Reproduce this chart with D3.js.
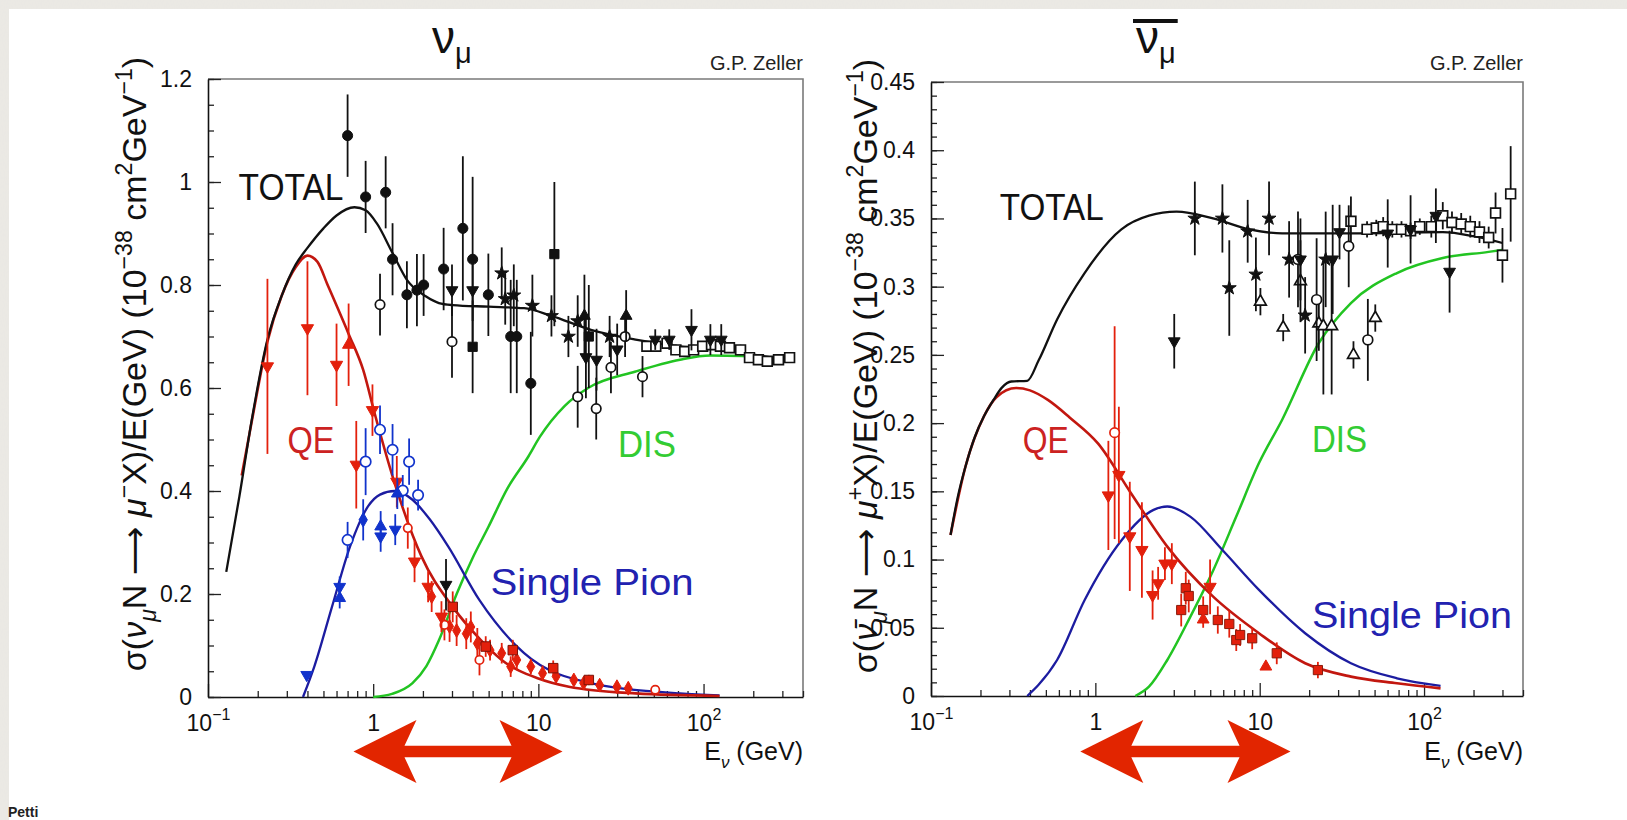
<!DOCTYPE html>
<html>
<head>
<meta charset="utf-8">
<script src="https://cdn.jsdelivr.net/npm/d3@7"></script>
<style>
  html, body { margin: 0; padding: 0; background: #ebe9e4; }
  svg { display: block; }
  text { font-family: "Liberation Sans", Arial, sans-serif; }
</style>
</head>
<body>
<svg id="chart" width="1627" height="820"></svg>
<script>
// ---------------- shared energy axis ----------------
const energyDomain = [0.1, 400];
const energyTicks = [0.1, 1, 10, 100];
const energyTickLabels = [["10", "−1"], ["1", ""], ["10", ""], ["10", "2"]];

// ---------------- ν_μ panel ----------------
const nuYTicks = [0, 0.2, 0.4, 0.6, 0.8, 1, 1.2];
const nuYTickLabels = ["0", "0.2", "0.4", "0.6", "0.8", "1", "1.2"];

// model curves: [E (GeV), σ/E (1e-38 cm² / GeV)]
const nuTotal = [[0.129,0.243],[0.155,0.39],[0.184,0.538],[0.229,0.694],[0.28,0.78],[0.34,0.84],[0.40,0.872],
  [0.5,0.91],[0.6,0.935],[0.77,0.951],[0.9,0.945],[1.05,0.92],[1.31,0.862],[1.6,0.81],[2.08,0.778],[2.5,0.765],
  [3.03,0.761],[5,0.758],[8.2,0.755],[12,0.74],[20.8,0.713],[38.8,0.694],[72,0.681],[135,0.674],[200,0.665],[300,0.656]];
const nuQE = [[0.16,0.43],[0.184,0.535],[0.229,0.69],[0.28,0.78],[0.34,0.835],[0.40,0.857],[0.46,0.845],[0.53,0.80],
  [0.71,0.705],[0.87,0.635],[1.02,0.551],[1.39,0.402],[1.96,0.273],[3.03,0.175],[4.5,0.11],[6,0.072],[10,0.036],
  [15.3,0.020],[38.8,0.007],[125,0.002]];
const nuPion = [[0.376,0],[0.44,0.059],[0.563,0.175],[0.724,0.292],[0.93,0.37],[1.1,0.393],[1.35,0.40],[1.73,0.383],
  [2.2,0.345],[2.85,0.292],[4.4,0.188],[8.2,0.085],[20.8,0.027],[72,0.007],[125,0.003]];
const nuDIS = [[1.0,0],[1.3,0.006],[1.73,0.027],[2.1,0.06],[2.5,0.11],[3.2,0.2],[4.0,0.27],[4.98,0.33],[6.5,0.405],
  [8.7,0.467],[10.2,0.505],[14.4,0.565],[20,0.60],[38.8,0.632],[72,0.655],[110,0.663],[171,0.662],[300,0.655]];

// measurements: [E, value, error]
const nuTotFilledCircle = [[0.70,1.09,0.08],[0.90,0.971,0.07],[1.19,0.98,0.07],[1.31,0.85,0.07],[1.60,0.781,0.065],
  [1.84,0.79,0.07],[2.02,0.80,0.06],[2.67,0.831,0.08],[3.49,0.91,0.14],[4.0,0.85,0.16],[4.98,0.781,0.08],
  [6.8,0.70,0.11],[7.4,0.70,0.11],[9.0,0.609,0.10]];
const nuTotFilledSquare = [[4.0,0.68,0.09],[12.5,0.86,0.14],[20.2,0.70,0.10]];
const nuTotOpenCircle = [[1.10,0.762,0.06],[3.0,0.69,0.07],[17.3,0.583,0.06],[22.4,0.56,0.06],[27.5,0.64,0.05],
  [33.5,0.70,0.04],[42.7,0.622,0.04]];
const nuTotStar = [[6.0,0.823,0.05],[6.3,0.773,0.05],[7.1,0.78,0.06],[9.2,0.76,0.06],[12,0.74,0.04],[15.2,0.70,0.04],
  [17.3,0.73,0.05],[27,0.70,0.04]];
const nuTotDownTri = [[3.0,0.79,0.05],[4.0,0.79,0.06],[19.4,0.66,0.08],[22.5,0.655,0.06],[30,0.675,0.05],
  [51,0.694,0.02],[62,0.694,0.02],[84.5,0.713,0.04],[110,0.694,0.03],[128,0.694,0.03],[2.76,0.218,0.05]];
const nuTotUpTri = [[19,0.74,0.08],[34,0.74,0.05]];
const nuTotOpenSquare = [[45.4,0.681,0.01],[51.4,0.681,0.01],[60.1,0.687,0.01],[68.0,0.674,0.01],[76.9,0.671,0.01],
  [87.1,0.674,0.01],[98.8,0.681,0.01],[111.7,0.684,0.01],[126.5,0.681,0.01],[143.5,0.678,0.01],[167.5,0.674,0.01],
  [189.7,0.659,0.01],[214.8,0.655,0.01],[243.2,0.652,0.01],[284.4,0.655,0.01],[331.9,0.659,0.01]];

const nuQeDownTri = [[0.229,0.642,0.17],[0.40,0.716,0.13],[0.60,0.645,0.08],[0.79,0.451,0.085],[0.99,0.557,0.05],
  [1.39,0.418,0.05],[1.78,0.263,0.04],[2.15,0.214,0.03],[2.59,0.156,0.03]];
const nuQeUpTri = [[0.71,0.684,0.08]];
const nuQeFilled = [[2.26,0.195,0.03],[2.9,0.137,0.03],[3.2,0.129,0.03],[3.66,0.123,0.03],[3.9,0.136,0.03],
  [4.27,0.104,0.03],[5.1,0.091,0.02],[6.0,0.085,0.02],[6.8,0.059,0.02],[7.4,0.072,0.02],[9.0,0.059,0.015],
  [10.6,0.046,0.015],[12.8,0.04,0.01],[16.4,0.033,0.01],[18.8,0.027,0.01],[23.5,0.023,0.01],[29.9,0.02,0.01],
  [35,0.017,0.008]];
const nuQeSquare = [[3.03,0.175,0.03],[4.8,0.098,0.02],[7.0,0.091,0.02],[12.3,0.056,0.015],[20.2,0.033,0.01]];
const nuQeOpenCircle = [[1.62,0.328,0.04],[2.7,0.14,0.03],[4.4,0.072,0.03],[51,0.014,0.005]];

const nuPiDownTri = [[0.396,0.043,0],[0.627,0.214,0.02],[1.11,0.312,0.03],[1.36,0.325,0.03]];
const nuPiUpTri = [[0.627,0.192,0.02],[1.11,0.331,0.03],[1.40,0.395,0.03]];
const nuPiOpenCircle = [[0.70,0.305,0.035],[0.90,0.457,0.065],[1.10,0.519,0.047],[1.31,0.48,0.05],[1.51,0.401,0.03],
  [1.65,0.457,0.045],[1.87,0.392,0.03]];
const nuPiFilled = [[0.87,0.344,0.04]];

// ---------------- anti-ν_μ panel ----------------
const nbYTicks = [0, 0.05, 0.1, 0.15, 0.2, 0.25, 0.3, 0.35, 0.4, 0.45];
const nbYTickLabels = ["0", "0.05", "0.1", "0.15", "0.2", "0.25", "0.3", "0.35", "0.4", "0.45"];

const nbTotal = [[0.1315,0.118],[0.145,0.145],[0.162,0.168],[0.185,0.19],[0.21,0.205],[0.24,0.217],[0.27,0.226],
  [0.308,0.2305],[0.385,0.231],[0.452,0.246],[0.585,0.276],[0.86,0.31],[1.44,0.342],[2.12,0.352],[3.12,0.355],
  [5.2,0.350],[8.7,0.342],[13.7,0.339],[36,0.339],[130,0.340],[200,0.337],[300,0.332]];
const nbQE = [[0.1315,0.118],[0.162,0.168],[0.21,0.205],[0.25,0.219],[0.33,0.2257],[0.4,0.224],[0.514,0.217],
  [0.7,0.204],[1.04,0.185],[1.64,0.149],[2.74,0.1095],[5.21,0.0728],[9.9,0.046],[18.9,0.024],[35.9,0.0142],
  [68.4,0.0093],[126,0.0056]];
const nbPion = [[0.385,0],[0.45,0.008],[0.585,0.0264],[0.861,0.0704],[1.44,0.114],[2.26,0.1364],[2.74,0.1389],
  [3.78,0.1315],[5.93,0.107],[9.9,0.0778],[18.9,0.046],[35.9,0.024],[68.4,0.013],[126,0.0075]];
const nbDIS = [[1.75,0],[2.12,0.0068],[2.74,0.0264],[3.78,0.058],[5.21,0.092],[7.2,0.1315],[9.9,0.1707],
  [13.7,0.2025],[22.9,0.2587],[35.9,0.288],[68.4,0.31],[130,0.321],[247,0.3255],[300,0.327]];

const nbTotStar = [[4.03,0.350,0.027],[5.93,0.350,0.025],[6.53,0.299,0.035],[8.45,0.3406,0.023],[9.48,0.309,0.027],
  [11.4,0.35,0.027],[15.1,0.32,0.028],[18.9,0.279,0.028],[25.2,0.32,0.035]];
const nbTotOpenTri = [[10.1,0.289,0.01],[13.9,0.27,0.01],[17.7,0.304,0.03],[22.9,0.273,0.02],[24.4,0.271,0.05],
  [27.4,0.271,0.05],[37.2,0.25,0.01],[50.5,0.277,0.01]];
const nbTotOpenCircle = [[17.1,0.32,0.035],[22.2,0.2905,0.045],[34.8,0.3296,0.03],[45.5,0.261,0.03]];
const nbTotDownTri = [[3.02,0.26,0.02],[17.7,0.32,0.03],[27.8,0.32,0.04],[30.6,0.34,0.02],[60.1,0.339,0.025],
  [82.8,0.342,0.025],[118,0.352,0.02],[143,0.311,0.03]];
const nbTotOpenSquare = [[35.9,0.348,0.018],[45.0,0.342,0.006],[51.2,0.343,0.006],[56.4,0.344,0.007],[64.1,0.342,0.006],
  [72.9,0.342,0.006],[82.8,0.341,0.006],[94.2,0.344,0.006],[110.7,0.344,0.008],[130,0.352,0.01],[147.9,0.347,0.008],
  [168.3,0.346,0.008],[191.1,0.344,0.008],[217.4,0.340,0.008],[247.3,0.336,0.008],[272.3,0.354,0.015],
  [300,0.323,0.02],[336.5,0.368,0.035]];

const nbQeDownTri = [[1.20,0.147,0.04],[1.39,0.162,0.05],[1.62,0.117,0.04],[1.92,0.107,0.035],[2.23,0.074,0.018],
  [2.41,0.0826,0.012],[2.65,0.097,0.012],[2.92,0.097,0.015],[4.99,0.080,0.02]];
const nbQeOpenCircle = [[1.31,0.193,0.078]];
const nbQeSquare = [[3.33,0.063,0.012],[3.55,0.079,0.012],[3.7,0.0733,0.012],[4.53,0.063,0.01],[5.56,0.0557,0.01],
  [6.53,0.0528,0.01],[7.2,0.041,0.008],[7.6,0.0447,0.008],[9.0,0.0423,0.008],[12.7,0.0313,0.008],[22.6,0.019,0.006]];
const nbQeUpTri = [[4.53,0.056,0.006],[10.9,0.0215,0]];

// energy band of interest, marked under each panel
const nuBand = [0.76, 14];
const nbBand = [0.81, 15.4];

// ---------------- drawing ----------------
const W = 1627, H = 820;
const svg = d3.select("#chart");

// textured page border and white sheet
const defs = svg.append("defs");
const flt = defs.append("filter").attr("id", "linen").attr("x", 0).attr("y", 0).attr("width", 1).attr("height", 1);
flt.append("feTurbulence").attr("type", "fractalNoise").attr("baseFrequency", "0.9 0.35").attr("numOctaves", 2).attr("seed", 3);
flt.append("feColorMatrix").attr("type", "matrix")
  .attr("values", "0 0 0 0 0.80  0 0 0 0 0.79  0 0 0 0 0.76  0 0 0 0.55 -0.12");
flt.append("feComposite").attr("in2", "SourceGraphic").attr("operator", "over");
svg.append("rect").attr("width", W).attr("height", H).attr("fill", "#ebe9e4").attr("filter", "url(#linen)");
svg.append("rect").attr("x", 9).attr("y", 9).attr("width", W - 9).attr("height", H - 9).attr("fill", "#ffffff");

const COL = { black: "#111111", red: "#e3200c", blue: "#1133cc" };

function richText(sel, parts, fs) {
  let shift = 0;
  parts.forEach(p => {
    const target = p.sub ? 0.3 * fs : p.sup ? -0.42 * fs : 0;
    const ts = sel.append("tspan").text(p.t);
    if (target - shift !== 0) ts.attr("dy", target - shift);
    shift = target;
    if (p.sub || p.sup) ts.attr("font-size", fs * 0.68);
    if (p.it) ts.attr("font-style", "italic");
    if (p.font) ts.attr("font-family", p.font);
  });
}

function drawMarkers(g, x, y, yMax, data, st) {
  const grp = g.append("g");
  grp.selectAll("line").data(data.filter(d => d[2] > 0)).join("line")
    .attr("x1", d => x(d[0])).attr("x2", d => x(d[0]))
    .attr("y1", d => y(Math.max(0, d[1] - d[2]))).attr("y2", d => y(Math.min(yMax, d[1] + d[2])))
    .attr("stroke", st.color).attr("stroke-width", 1.8);
  const sym = d3.symbol().type(st.type).size(st.size);
  grp.selectAll("path").data(data).join("path")
    .attr("d", sym)
    .attr("transform", d => `translate(${x(d[0])},${y(d[1])})${st.down ? " rotate(180)" : ""}`)
    .attr("fill", st.open ? "#ffffff" : (st.fill || st.color))
    .attr("stroke", st.stroke || st.color)
    .attr("stroke-width", st.open ? 1.7 : 1);
}

function drawPanel(cfg) {
  const g = svg.append("g");
  const x = d3.scaleLog().domain(energyDomain).range([cfg.left, cfg.right]);
  const y = d3.scaleLinear().domain([0, cfg.yMax]).range([cfg.bottom, cfg.top]);

  // frame (top and right)
  g.append("path")
    .attr("d", `M${cfg.left},${cfg.top}H${cfg.right}V${cfg.bottom}`)
    .attr("fill", "none").attr("stroke", "#7a7a7a").attr("stroke-width", 1.6);

  // x axis: major and minor ticks pointing into the frame
  const minorX = [];
  energyTicks.forEach(t => { for (let k = 2; k <= 9; k++) if (t * k <= energyDomain[1]) minorX.push(t * k); });
  g.append("g").attr("transform", `translate(0,${cfg.bottom})`)
    .call(d3.axisBottom(x).tickValues(minorX).tickSize(-6).tickSizeOuter(0).tickFormat(""))
    .call(a => a.select(".domain").remove())
    .selectAll("line").attr("stroke", "#222").attr("stroke-width", 1.3);
  const xa = g.append("g").attr("transform", `translate(0,${cfg.bottom})`)
    .call(d3.axisBottom(x).tickValues(energyTicks).tickSize(-13).tickSizeOuter(0).tickPadding(18));
  xa.select(".domain").attr("stroke", "#111").attr("stroke-width", 1.6);
  xa.selectAll("line").attr("stroke", "#222").attr("stroke-width", 1.3);
  xa.selectAll(".tick text").each(function(d, i) {
    const t = d3.select(this).text("").attr("font-size", 23).attr("fill", "#111")
      .attr("font-family", "Liberation Sans, Arial, sans-serif");
    const lab = energyTickLabels[i];
    t.append("tspan").text(lab[0]);
    if (lab[1]) t.append("tspan").text(lab[1]).attr("font-size", 16).attr("dy", -11);
  });

  // y axis
  const minorY = d3.range(0, cfg.yMax + 1e-9, cfg.yMinor);
  g.append("g").attr("transform", `translate(${cfg.left},0)`)
    .call(d3.axisLeft(y).tickValues(minorY).tickSize(-6).tickSizeOuter(0).tickFormat(""))
    .call(a => a.select(".domain").remove())
    .selectAll("line").attr("stroke", "#222").attr("stroke-width", 1.3);
  const ya = g.append("g").attr("transform", `translate(${cfg.left},0)`)
    .call(d3.axisLeft(y).tickValues(cfg.yTicks).tickSize(-13).tickSizeOuter(0).tickPadding(16)
      .tickFormat((d, i) => cfg.yTickLabels[i]));
  ya.select(".domain").attr("stroke", "#111").attr("stroke-width", 1.6);
  ya.selectAll("line").attr("stroke", "#222").attr("stroke-width", 1.3);
  ya.selectAll(".tick text").attr("font-size", 23).attr("fill", "#111")
    .attr("font-family", "Liberation Sans, Arial, sans-serif");

  // model curves
  const line = d3.line().x(d => x(d[0])).y(d => y(d[1])).curve(d3.curveMonotoneX);
  const curves = [
    [cfg.dis, "#22c422", 2.5],
    [cfg.pion, "#1c1ca0", 2.3],
    [cfg.qe, "#c2170f", 2.6],
    [cfg.total, "#111111", 2.3]
  ];
  curves.forEach(([d, c, w]) => g.append("path").datum(d).attr("d", line)
    .attr("fill", "none").attr("stroke", c).attr("stroke-width", w).attr("stroke-linejoin", "round"));

  // measurements
  cfg.points.forEach(([d, st]) => drawMarkers(g, x, y, cfg.yMax, d, st));

  // process labels
  cfg.labels.forEach(l => {
    g.append("text").attr("x", x(l.e)).attr("y", y(l.v)).text(l.t)
      .attr("font-size", 37).attr("fill", l.c)
      .attr("textLength", l.w).attr("lengthAdjust", "spacingAndGlyphs");
  });

  // title
  const tt = g.append("text").attr("x", cfg.titleX).attr("y", 53)
    .attr("font-family", "Liberation Serif, Times New Roman, serif").attr("fill", "#111");
  tt.append("tspan").text("ν").attr("font-size", 46);
  tt.append("tspan").text("μ").attr("font-size", 29).attr("dy", 10);
  if (cfg.bar) {
    const bb = tt.node().getBBox();
    g.append("line").attr("x1", bb.x - 3).attr("x2", bb.x + bb.width + 2).attr("y1", 21).attr("y2", 21)
      .attr("stroke", "#111").attr("stroke-width", 4);
  }

  // credit
  g.append("text").attr("x", cfg.right).attr("y", 70).attr("text-anchor", "end")
    .attr("font-size", 20).attr("fill", "#222").text("G.P. Zeller");

  // x-axis title
  const xt = g.append("text").attr("x", cfg.right).attr("y", 760).attr("text-anchor", "end")
    .attr("font-size", 25).attr("fill", "#111");
  richText(xt, [{ t: "E" }, { t: "ν", sub: true, it: true }, { t: " (GeV)" }], 25);

  // y-axis title
  const yt = g.append("text")
    .attr("transform", `translate(${cfg.yLabelX},${cfg.yLabelY}) rotate(-90)`)
    .attr("text-anchor", "middle").attr("font-size", 34).attr("fill", "#111");
  richText(yt, cfg.yLabel, 34);

  // band arrow under the energy axis
  const a = x(cfg.band[0]), b = x(cfg.band[1]), cy = 751.5;
  const hl = 63, nt = 51, hh = 31.5, sh = 5.7;
  const pts = [[a, cy], [a + hl, cy - hh], [a + nt, cy - sh], [b - nt, cy - sh], [b - hl, cy - hh], [b, cy],
    [b - hl, cy + hh], [b - nt, cy + sh], [a + nt, cy + sh], [a + hl, cy + hh]];
  g.append("path").attr("d", "M" + pts.map(p => p.join(",")).join("L") + "Z").attr("fill", "#e22500");
}

const ARROW_FONT = "DejaVu Sans, Liberation Sans, sans-serif";

drawPanel({
  left: 208, right: 803, top: 79, bottom: 697, yMax: 1.2, yMinor: 0.05,
  yTicks: nuYTicks, yTickLabels: nuYTickLabels,
  total: nuTotal, qe: nuQE, pion: nuPion, dis: nuDIS,
  points: [
    [nuTotOpenSquare, { type: d3.symbolSquare, size: 95, color: COL.black, open: true }],
    [nuTotFilledCircle, { type: d3.symbolCircle, size: 80, color: COL.black }],
    [nuTotFilledSquare, { type: d3.symbolSquare, size: 85, color: COL.black }],
    [nuTotOpenCircle, { type: d3.symbolCircle, size: 70, color: COL.black, open: true }],
    [nuTotStar, { type: d3.symbolStar, size: 60, color: COL.black }],
    [nuTotDownTri, { type: d3.symbolTriangle, size: 60, color: COL.black, down: true }],
    [nuTotUpTri, { type: d3.symbolTriangle, size: 60, color: COL.black }],
    [nuQeFilled, { type: d3.symbolDiamond, size: 55, color: COL.red }],
    [nuQeSquare, { type: d3.symbolSquare, size: 90, color: COL.red, stroke: "#7a1208" }],
    [nuQeOpenCircle, { type: d3.symbolCircle, size: 55, color: COL.red, open: true }],
    [nuQeDownTri, { type: d3.symbolTriangle, size: 65, color: COL.red, down: true }],
    [nuQeUpTri, { type: d3.symbolTriangle, size: 65, color: COL.red }],
    [nuPiOpenCircle, { type: d3.symbolCircle, size: 85, color: COL.blue, open: true }],
    [nuPiDownTri, { type: d3.symbolTriangle, size: 60, color: COL.blue, down: true }],
    [nuPiUpTri, { type: d3.symbolTriangle, size: 60, color: COL.blue }],
    [nuPiFilled, { type: d3.symbolDiamond, size: 60, color: COL.blue }]
  ],
  labels: [
    { t: "TOTAL", e: 0.153, v: 0.966, c: "#111", w: 105 },
    { t: "QE", e: 0.303, v: 0.474, c: "#cc2222", w: 47 },
    { t: "DIS", e: 30.3, v: 0.466, c: "#33cc33", w: 58 },
    { t: "Single Pion", e: 5.14, v: 0.198, c: "#2222b0", w: 203 }
  ],
  titleX: 432, bar: false,
  yLabelX: 146, yLabelY: 364,
  yLabel: [{ t: "σ(" }, { t: "ν", it: true }, { t: "μ", sub: true, it: true }, { t: "N " },
    { t: "⟶", font: ARROW_FONT }, { t: " " }, { t: "μ", it: true },
    { t: "−", sup: true }, { t: "X)/E(GeV)  (10" }, { t: "−38", sup: true }, { t: " cm" }, { t: "2", sup: true },
    { t: "GeV" }, { t: "−1", sup: true }, { t: ")" }],
  band: nuBand
});

drawPanel({
  left: 931, right: 1523, top: 82, bottom: 696, yMax: 0.45, yMinor: 0.01,
  yTicks: nbYTicks, yTickLabels: nbYTickLabels,
  total: nbTotal, qe: nbQE, pion: nbPion, dis: nbDIS,
  points: [
    [nbTotOpenSquare, { type: d3.symbolSquare, size: 95, color: COL.black, open: true }],
    [nbTotStar, { type: d3.symbolStar, size: 60, color: COL.black }],
    [nbTotOpenTri, { type: d3.symbolTriangle, size: 60, color: COL.black, open: true }],
    [nbTotOpenCircle, { type: d3.symbolCircle, size: 75, color: COL.black, open: true }],
    [nbTotDownTri, { type: d3.symbolTriangle, size: 60, color: COL.black, down: true }],
    [nbQeSquare, { type: d3.symbolSquare, size: 85, color: COL.red, stroke: "#8a1a0a" }],
    [nbQeDownTri, { type: d3.symbolTriangle, size: 65, color: COL.red, down: true }],
    [nbQeUpTri, { type: d3.symbolTriangle, size: 60, color: COL.red }],
    [nbQeOpenCircle, { type: d3.symbolCircle, size: 70, color: COL.red, open: true }]
  ],
  labels: [
    { t: "TOTAL", e: 0.262, v: 0.349, c: "#111", w: 104 },
    { t: "QE", e: 0.361, v: 0.178, c: "#cc2222", w: 46 },
    { t: "DIS", e: 20.8, v: 0.179, c: "#33cc33", w: 55 },
    { t: "Single Pion", e: 20.8, v: 0.05, c: "#2222b0", w: 200 }
  ],
  titleX: 1136, bar: true,
  yLabelX: 877, yLabelY: 366,
  yLabel: [{ t: "σ(" }, { t: "ν\u0304", it: true }, { t: "μ", sub: true, it: true }, { t: "N " },
    { t: "⟶", font: ARROW_FONT }, { t: " " }, { t: "μ", it: true },
    { t: "+", sup: true }, { t: "X)/E(GeV)  (10" }, { t: "−38", sup: true }, { t: " cm" }, { t: "2", sup: true },
    { t: "GeV" }, { t: "−1", sup: true }, { t: ")" }],
  band: nbBand
});

// author tag
svg.append("text").attr("x", 8).attr("y", 817).text("Petti")
  .attr("font-family", "Lato, 'Open Sans', sans-serif").attr("font-weight", "bold")
  .attr("font-size", 14).attr("fill", "#222");
</script>
</body>
</html>
